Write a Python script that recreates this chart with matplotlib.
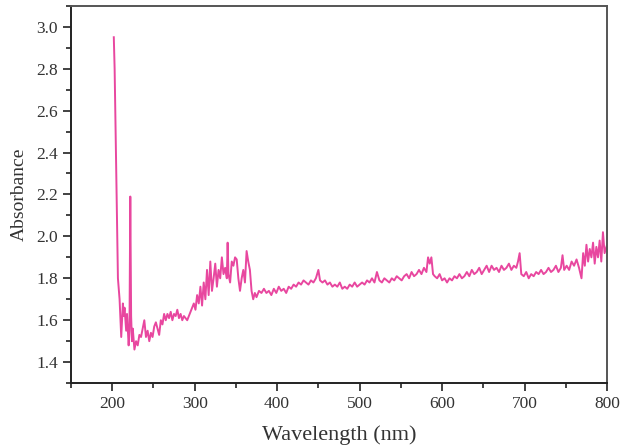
import matplotlib
matplotlib.use("Agg")
import matplotlib.pyplot as plt
from matplotlib.ticker import MultipleLocator, FormatStrFormatter

# UV-Vis spectrum, values
wavelength = [
    202, 203, 205, 207, 209, 211, 213, 214, 215, 217, 218, 220, 221, 222, 223, 224,
    225, 227, 229, 231, 233, 235, 237, 239, 241, 243, 245, 247, 249, 251, 253,
    255, 257, 259, 261, 263, 265, 267, 269, 271, 273, 275, 277, 279, 281, 283,
    285, 287, 289, 291, 293, 295, 297, 299, 301, 303, 305, 307, 309, 311, 313,
    315, 317, 319, 321, 323, 325, 327, 329, 331, 333, 335, 337, 339, 340, 341,
    343, 345, 347, 349, 351, 353, 355, 357, 359, 361, 363, 365, 367, 369, 371,
    373, 375, 378, 381, 384, 387, 390, 393, 396, 399, 402, 405, 408, 411, 414,
    417, 420, 423, 426, 429, 432, 435, 438, 441, 444, 447, 450, 452, 455, 458,
    461, 464, 467, 470, 473, 476, 479, 482, 485, 488, 491, 494, 497, 500, 503,
    506, 509, 512, 515, 518, 521, 524, 527, 530, 533, 536, 539, 542, 545, 548,
    551, 554, 557, 560, 563, 566, 569, 572, 575, 578, 581, 583, 585, 587, 589,
    591, 594, 597, 600, 603, 606, 609, 612, 615, 618, 621, 624, 627, 630, 633,
    636, 639, 642, 645, 648, 651, 654, 657, 660, 663, 666, 669, 672, 675, 678,
    681, 684, 687, 690, 692, 694, 696, 699, 702, 705, 708, 711, 714, 717, 720,
    723, 726, 729, 732, 735, 738, 741, 744, 746, 748, 751, 754, 757, 760, 763,
    766, 769, 771, 773, 775, 777, 779, 781, 783, 785, 787, 789, 791, 793, 795,
    797, 800,
]
absorbance = [
    2.95, 2.80, 2.30, 1.80, 1.70, 1.52, 1.68, 1.62, 1.66, 1.55, 1.63, 1.48, 1.55, 2.19, 1.62, 1.50,
    1.56, 1.46, 1.50, 1.48, 1.53, 1.52, 1.56, 1.60, 1.52, 1.55, 1.50, 1.54, 1.52, 1.57, 1.59,
    1.56, 1.53, 1.60, 1.58, 1.63, 1.60, 1.63, 1.61, 1.64, 1.60, 1.63, 1.62, 1.65, 1.61, 1.63,
    1.60, 1.62, 1.61, 1.60, 1.62, 1.64, 1.66, 1.68, 1.65, 1.72, 1.68, 1.76, 1.67, 1.78, 1.70,
    1.84, 1.72, 1.88, 1.74, 1.80, 1.87, 1.76, 1.84, 1.80, 1.90, 1.82, 1.85, 1.80, 1.97, 1.82,
    1.78, 1.88, 1.86, 1.90, 1.89, 1.80, 1.74, 1.80, 1.84, 1.78, 1.93, 1.88, 1.84, 1.74, 1.70,
    1.73, 1.71, 1.74, 1.73, 1.75, 1.73, 1.74, 1.72, 1.75, 1.73, 1.76, 1.74, 1.75, 1.73, 1.76,
    1.75, 1.77, 1.76, 1.78, 1.77, 1.79, 1.78, 1.77, 1.79, 1.78, 1.80, 1.84, 1.79, 1.78, 1.79,
    1.77, 1.78, 1.76, 1.77, 1.76, 1.78, 1.75, 1.76, 1.75, 1.77, 1.76, 1.78, 1.76, 1.77, 1.78,
    1.77, 1.79, 1.78, 1.80, 1.78, 1.83, 1.79, 1.78, 1.80, 1.79, 1.78, 1.80, 1.79, 1.81, 1.80,
    1.79, 1.81, 1.82, 1.80, 1.83, 1.81, 1.82, 1.84, 1.82, 1.85, 1.83, 1.90, 1.87, 1.90, 1.82,
    1.81, 1.80, 1.82, 1.79, 1.80, 1.78, 1.80, 1.79, 1.81, 1.80, 1.82, 1.80, 1.81, 1.83, 1.81,
    1.84, 1.82, 1.83, 1.85, 1.82, 1.84, 1.86, 1.83, 1.86, 1.84, 1.85, 1.83, 1.86, 1.84, 1.85,
    1.87, 1.84, 1.86, 1.85, 1.88, 1.92, 1.82, 1.81, 1.83, 1.80, 1.82, 1.81, 1.83, 1.82, 1.84,
    1.82, 1.83, 1.85, 1.83, 1.84, 1.86, 1.83, 1.85, 1.91, 1.84, 1.86, 1.84, 1.88, 1.86, 1.89,
    1.85, 1.80, 1.92, 1.86, 1.96, 1.88, 1.94, 1.90, 1.97, 1.87, 1.95, 1.90, 1.98, 1.88, 2.02,
    1.92, 1.96,
]

plt.rcParams['font.family'] = ['Liberation Serif', 'DejaVu Serif']

fig = plt.figure(figsize=(6.22, 4.46), dpi=100)
ax = fig.add_axes([0.114, 0.141, 0.862, 0.846])

ax.plot(wavelength, absorbance, color='#E8479F', linewidth=1.4)

ax.set_xlim(150, 800)
ax.set_ylim(1.3, 3.1)
ax.xaxis.set_major_locator(MultipleLocator(100))
ax.xaxis.set_minor_locator(MultipleLocator(50))
ax.yaxis.set_major_locator(MultipleLocator(0.2))
ax.yaxis.set_minor_locator(MultipleLocator(0.1))
ax.yaxis.set_major_formatter(FormatStrFormatter('%.1f'))

ax.tick_params(which='major', direction='out', length=6, width=1.2, labelsize=12.5,
               colors='#222222', labelcolor='#333333')
ax.tick_params(which='minor', direction='out', length=3.5, width=1.2, colors='#222222')
ax.tick_params(top=False, right=False, which='both')

for side in ['left', 'bottom']:
    ax.spines[side].set_linewidth(1.4)
    ax.spines[side].set_color('#222222')
for side in ['top', 'right']:
    ax.spines[side].set_linewidth(1.4)
    ax.spines[side].set_color('#555555')

ax.set_xlabel("Wavelength (nm)", fontsize=16, color='#333333', labelpad=9)
ax.set_ylabel("Absorbance", fontsize=14, color='#333333', labelpad=6)

fig.savefig("out.png", dpi=100)
plt.close(fig)
